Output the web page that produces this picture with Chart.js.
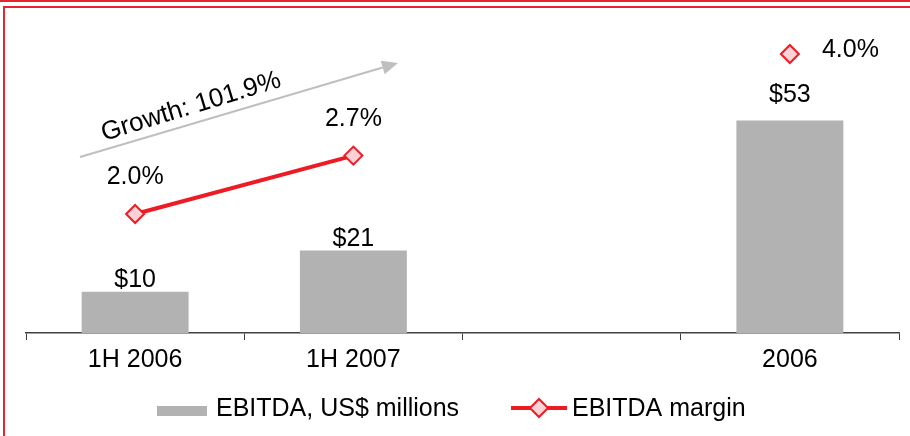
<!DOCTYPE html>
<html>
<head>
<meta charset="utf-8">
<script src="https://cdn.jsdelivr.net/npm/chart.js@4"></script>
<style>
  html, body { margin: 0; padding: 0; background: #fff; }
  #wrap { width: 910px; height: 436px; }
</style>
</head>
<body>
<div id="wrap"><canvas id="myChart" width="910" height="436"></canvas></div>
<script>
// data
const categories = ['1H 2006', '1H 2007', '', '2006'];
const ebitda = [10.3, 20.6, null, 53.1];   // US$ millions
const margin = [2.0, 2.73, null, 4.0];      // EBITDA margin, %
const growth = 101.9;                       // % growth 1H06 -> 1H07

const barColor = '#B2B2B2';
const lineColor = '#ED1C24';
const pointFill = '#FFD3D6';
const frameColor = '#E5262F';
const FAMILY = '"Liberation Sans", Arial, sans-serif';
const FONT = '25px ' + FAMILY;

// extra lift of the value label above each bar
const barLabelGap = [5, 5, 0, 19];

const decorations = {
  id: 'decorations',
  beforeDraw(chart) {
    const ctx = chart.ctx;
    ctx.save();
    ctx.fillStyle = '#fff';
    ctx.fillRect(0, 0, chart.width, chart.height);
    // red frame
    ctx.fillStyle = frameColor;
    ctx.fillRect(0, 0, chart.width, 2);
    ctx.strokeStyle = frameColor;
    ctx.lineWidth = 2;
    ctx.beginPath();
    ctx.moveTo(4, chart.height);
    ctx.lineTo(4, 7);
    ctx.lineTo(chart.width, 7);
    ctx.stroke();
    ctx.restore();
  },
  afterDatasetsDraw(chart) {
    const ctx = chart.ctx;
    ctx.save();
    ctx.font = FONT;
    ctx.fillStyle = '#000';

    // bar values
    ctx.textAlign = 'center';
    ctx.textBaseline = 'alphabetic';
    chart.getDatasetMeta(0).data.forEach((el, i) => {
      if (ebitda[i] == null) return;
      ctx.fillText('$' + Math.round(ebitda[i]), el.x, el.y - barLabelGap[i]);
    });

    // margin values
    chart.getDatasetMeta(1).data.forEach((el, i) => {
      if (margin[i] == null) return;
      const txt = margin[i].toFixed(1) + '%';
      if (i === categories.length - 1) {
        ctx.textAlign = 'left';
        ctx.fillText(txt, el.x + 32, el.y + 3);
      } else {
        ctx.textAlign = 'center';
        ctx.fillText(txt, el.x, el.y - 30);
      }
    });

    // growth arrow
    const x0 = 80, y0 = 157, x1 = 398, y1 = 63;
    const ang = Math.atan2(y1 - y0, x1 - x0);
    const head = 16, half = 7;
    const bx = x1 - head * Math.cos(ang), by = y1 - head * Math.sin(ang);
    ctx.strokeStyle = '#BFBFBF';
    ctx.fillStyle = '#BFBFBF';
    ctx.lineWidth = 2;
    ctx.beginPath();
    ctx.moveTo(x0, y0);
    ctx.lineTo(bx, by);
    ctx.stroke();
    ctx.beginPath();
    ctx.moveTo(x1, y1);
    ctx.lineTo(bx + half * Math.sin(ang), by - half * Math.cos(ang));
    ctx.lineTo(bx - half * Math.sin(ang), by + half * Math.cos(ang));
    ctx.closePath();
    ctx.fill();

    ctx.save();
    ctx.translate(104, 141);
    ctx.rotate(-17 * Math.PI / 180);
    ctx.font = '26px ' + FAMILY;
    ctx.fillStyle = '#000';
    ctx.textAlign = 'left';
    ctx.fillText('Growth: ' + growth.toFixed(1) + '%', 0, 0);
    ctx.restore();

    // legend
    const ly = 416;
    ctx.fillStyle = barColor;
    ctx.fillRect(157, 406, 50, 10);
    ctx.fillStyle = '#000';
    ctx.textAlign = 'left';
    ctx.fillText(chart.data.datasets[0].label, 216, ly);

    ctx.strokeStyle = lineColor;
    ctx.lineWidth = 4;
    ctx.beginPath();
    ctx.moveTo(511, 408);
    ctx.lineTo(567, 408);
    ctx.stroke();
    ctx.beginPath();
    ctx.moveTo(530, 408);
    ctx.lineTo(539, 399);
    ctx.lineTo(548, 408);
    ctx.lineTo(539, 417);
    ctx.closePath();
    ctx.fillStyle = pointFill;
    ctx.fill();
    ctx.lineWidth = 2;
    ctx.stroke();
    ctx.fillStyle = '#000';
    ctx.fillText(chart.data.datasets[1].label, 572, ly);
    ctx.restore();
  }
};

const ctx = document.getElementById('myChart');

new Chart(ctx, {
  type: 'bar',
  data: {
    labels: categories,
    datasets: [{
      label: 'EBITDA, US$ millions',
      data: ebitda,
      backgroundColor: barColor,
      categoryPercentage: 0.49,
      barPercentage: 1,
      yAxisID: 'y',
      order: 2
    }, {
      type: 'line',
      label: 'EBITDA margin',
      data: margin,
      yAxisID: 'y1',
      borderColor: lineColor,
      borderWidth: 4,
      pointStyle: 'rectRot',
      pointRadius: 9,
      pointBackgroundColor: pointFill,
      pointBorderColor: lineColor,
      pointBorderWidth: 2,
      spanGaps: false,
      order: 1
    }]
  },
  options: {
    responsive: false,
    animation: false,
    devicePixelRatio: 1,
    layout: { padding: { left: 26, right: 3, top: 20, bottom: 46 } },
    plugins: {
      legend: { display: false },
      tooltip: { enabled: false }
    },
    scales: {
      x: {
        offset: true,
        grid: {
          offset: true,
          drawOnChartArea: false,
          drawTicks: true,
          tickLength: 7,
          color: '#404040'
        },
        border: { color: '#404040', width: 1.5 },
        ticks: {
          color: '#000',
          font: { family: FAMILY, size: 25 },
          padding: 5,
          maxRotation: 0,
          autoSkip: false
        },
        afterFit(scale) { scale.height = 57; }
      },
      y: { display: false, min: 0, max: 78.25 },
      y1: { display: false, min: 0.5125, max: 4.425 }
    }
  },
  plugins: [decorations]
});
</script>
</body>
</html>
